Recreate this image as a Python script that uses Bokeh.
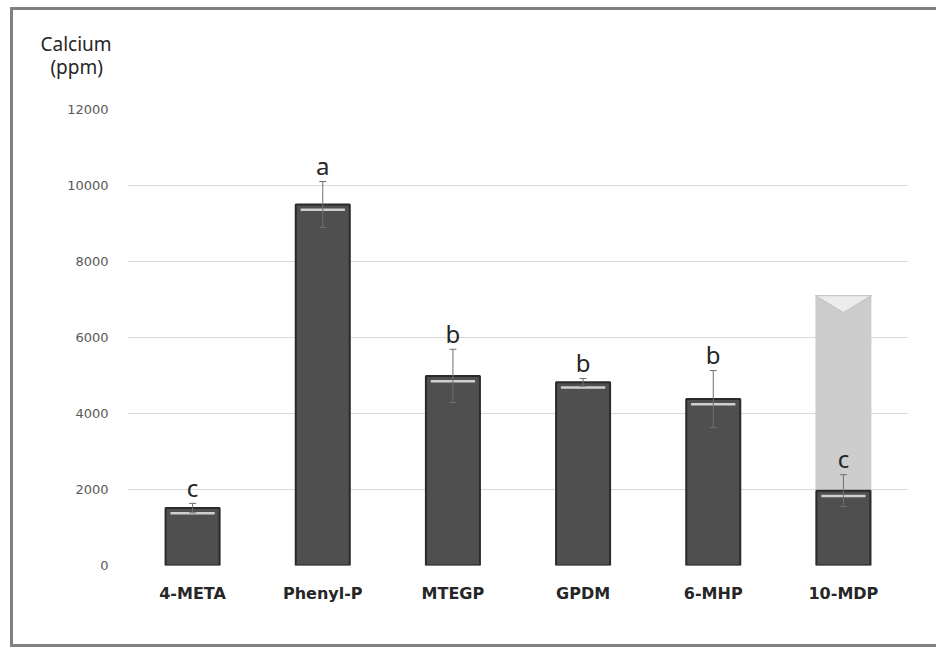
from bokeh.plotting import figure
from bokeh.models import (ColumnDataSource, FactorRange, Range1d, Whisker, TeeHead,
                          Title, FixedTicker)
from bokeh.core.properties import value
from bokeh.embed import file_html
from bokeh.resources import INLINE

# ---- data ----
categories = ["4-META", "Phenyl-P", "MTEGP", "GPDM", "6-MHP", "10-MDP"]
calcium_mean = [1510, 9500, 4990, 4820, 4380, 1970]
calcium_sd = [125, 605, 700, 100, 750, 420]
group_letters = ["c", "a", "b", "b", "b", "c"]
overlay_category = "10-MDP"
overlay_top = 7100
y_ticks = [0, 2000, 4000, 6000, 8000, 10000, 12000]
axis_title = "Calcium\n\u00a0\u00a0(ppm)\n\u00a0"

# ---- layout ----
W, H = 926, 640
BL, BR, BT, BB = 114, 31, 99, 85
Y_MAX = y_ticks[-1]
PX = Y_MAX / (H - BT - BB)          # data units per screen pixel
BAR_W = 0.415

lower = [m - s for m, s in zip(calcium_mean, calcium_sd)]
upper = [m + s for m, s in zip(calcium_mean, calcium_sd)]
src = ColumnDataSource(dict(
    cat=categories, mean=calcium_mean, lower=lower, upper=upper,
    letters=group_letters,
    hl_top=[m - 4 * PX for m in calcium_mean],
    hl_bot=[m - 6.5 * PX for m in calcium_mean],
))

p = figure(x_range=FactorRange(*categories, range_padding=0),
           y_range=Range1d(0, Y_MAX), width=W, height=H, title=None,
           output_backend="svg", toolbar_location=None,
           min_border_left=BL, min_border_right=BR,
           min_border_top=BT, min_border_bottom=BB)
p.outline_line_color = None
p.background_fill_color = "white"
p.border_fill_color = "white"
p.styles = {"margin-left": "10px", "margin-top": "7px",
            "border-top": "3px solid #808080", "border-left": "3px solid #808080",
            "border-bottom": "3px solid #808080"}

p.xgrid.grid_line_color = None
p.ygrid.grid_line_color = "#d9d9d9"
p.ygrid.ticker = FixedTicker(ticks=y_ticks)

p.yaxis.ticker = FixedTicker(ticks=y_ticks)
p.yaxis.axis_line_color = None
p.yaxis.major_tick_line_color = None
p.yaxis.minor_tick_line_color = None
p.yaxis.major_tick_out = 0
p.yaxis.major_tick_in = 0
p.yaxis.minor_tick_out = 0
p.yaxis.major_label_standoff = 19
p.yaxis.major_label_text_font = "DejaVu Sans"
p.yaxis.major_label_text_font_size = "13px"
p.yaxis.major_label_text_color = "#595959"

p.xaxis.axis_line_color = None
p.xaxis.major_tick_line_color = None
p.xaxis.major_tick_out = 0
p.xaxis.major_label_standoff = 18
p.xaxis.major_label_text_font = "DejaVu Sans"
p.xaxis.major_label_text_font_style = "bold"
p.xaxis.major_label_text_font_size = "16px"
p.xaxis.major_label_text_color = "#262626"

# light overlay bar with bevelled top
oi = categories.index(overlay_category) + 0.5
ow = 0.43
p.vbar(x=[overlay_category], top=[overlay_top], bottom=0, width=ow,
       fill_color="#cdcdcd", line_color=None)
p.patch(x=[oi - ow / 2, oi + ow / 2, oi], y=[overlay_top, overlay_top, overlay_top - 17 * PX],
        fill_color="#ececec", line_color="#bdbdbd", line_width=1)

# main bars
p.vbar(x="cat", top="mean", bottom=0, width=BAR_W, source=src,
       fill_color="#4f4f4f", line_color="#2a2a2a", line_width=2)
p.vbar(x="cat", top="hl_top", bottom="hl_bot", width=BAR_W * 0.82, source=src,
       fill_color="#cfcfcf", line_color=None)

# error bars
head = dict(size=7, line_color="#6f6f6f", line_width=1)
p.add_layout(Whisker(base="cat", upper="upper", lower="lower", source=src,
                     line_color="#6f6f6f", line_width=1, level="overlay",
                     upper_head=TeeHead(**head), lower_head=TeeHead(**head)))

# significance letters
p.text(x="cat", y="upper", text="letters", source=src, text_align="center",
       text_baseline="alphabetic", y_offset=-16, text_font=value("Noto Sans"),
       text_font_size="24px", text_color="#262626")

# axis title (two lines above the frame)
p.add_layout(Title(text=axis_title, align="left", offset=-87, standoff=12,
                   text_font="Noto Sans", text_font_size="19px",
                   text_line_height=0.9,
                   text_font_style="normal", text_color="#262626"), "above")

open("out.html", "w").write(file_html(p, INLINE))
